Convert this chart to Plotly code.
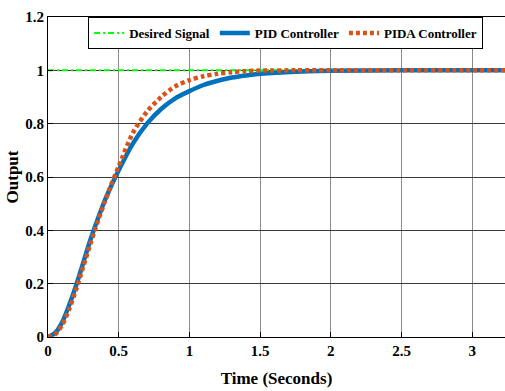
import plotly.graph_objects as go

time_pts = [0, 0.05, 0.1, 0.15, 0.2, 0.25, 0.3, 0.35, 0.4, 0.45, 0.5, 0.6, 0.7, 0.8,
            0.9, 1.0, 1.1, 1.2, 1.3, 1.4, 1.5, 1.75, 2.0, 2.5, 3.0, 3.25]
pid_out = [0, 0.015, 0.055, 0.12, 0.195, 0.28, 0.365, 0.44, 0.51, 0.57, 0.625, 0.725, 0.80,
           0.855, 0.895, 0.922, 0.945, 0.961, 0.973, 0.981, 0.987, 0.995, 0.998, 1.0, 1.0, 1.0]
pida_out = [0, 0.01, 0.045, 0.105, 0.18, 0.265, 0.35, 0.43, 0.505, 0.575, 0.64, 0.765, 0.845,
            0.9, 0.94, 0.963, 0.978, 0.987, 0.993, 0.997, 0.999, 1.0, 1.0, 1.0, 1.0, 1.0]
desired_t = [0, 3.25]
desired_out = [1, 1]

x_ticks = [0, 0.5, 1, 1.5, 2, 2.5, 3]
x_tick_text = ["0", "0.5", "1", "1.5", "2", "2.5", "3"]
y_ticks = [0, 0.2, 0.4, 0.6, 0.8, 1.0, 1.2]
y_tick_text = ["0", "0.2", "0.4", "0.6", "0.8", "1", "1.2"]

FONT = "Liberation Serif, Times New Roman, serif"

fig = go.Figure()
fig.add_trace(go.Scatter(x=desired_t, y=desired_out, mode="lines", name="<b>Desired Signal</b>",
                         line=dict(color="#00FF00", width=2, dash="6px,3px,2px,3px")))
fig.add_trace(go.Scatter(x=time_pts, y=pid_out, mode="lines", name="<b>PID Controller</b>",
                         line=dict(color="#0072BD", width=4.5, shape="spline", smoothing=0.8)))
fig.add_trace(go.Scatter(x=time_pts, y=pida_out, mode="lines", name="<b>PIDA Controller</b>",
                         line=dict(color="#D95319", width=4.5, dash="4px,3px", shape="spline", smoothing=0.8)))

fig.update_layout(
    width=505, height=391,
    margin=dict(l=48, r=0, t=17, b=54),
    paper_bgcolor="white", plot_bgcolor="white",
    font=dict(family=FONT, color="black", size=14),
    showlegend=True,
    legend=dict(orientation="h", x=0.52, y=1.0, xanchor="center", yanchor="top",
                bgcolor="white", bordercolor="black", borderwidth=1,
                font=dict(family=FONT, size=13, color="black"),
                itemwidth=30, tracegroupgap=0),
)
fig.update_xaxes(range=[0, 3.232], tickvals=x_ticks, ticktext=[f"<b>{t}</b>" for t in x_tick_text],
                 showgrid=True, gridcolor="#8a8a8a", gridwidth=1,
                 ticks="inside", ticklen=5, tickcolor="black",
                 showline=True, linecolor="black", linewidth=1, mirror=True,
                 zeroline=False,
                 tickfont=dict(family=FONT, size=15, color="black"),
                 title=dict(text="<b>Time (Seconds)</b>", font=dict(family=FONT, size=17), standoff=14))
fig.update_yaxes(range=[0, 1.2], tickvals=y_ticks, ticktext=[f"<b>{t}</b>" for t in y_tick_text],
                 showgrid=True, gridcolor="#3a3a3a", gridwidth=1,
                 ticks="inside", ticklen=5, tickcolor="black",
                 showline=True, linecolor="black", linewidth=1, mirror=True,
                 zeroline=False,
                 tickfont=dict(family=FONT, size=15, color="black"),
                 title=dict(text="<b>Output</b>", font=dict(family=FONT, size=17), standoff=2))

fig.write_html("out.html")
